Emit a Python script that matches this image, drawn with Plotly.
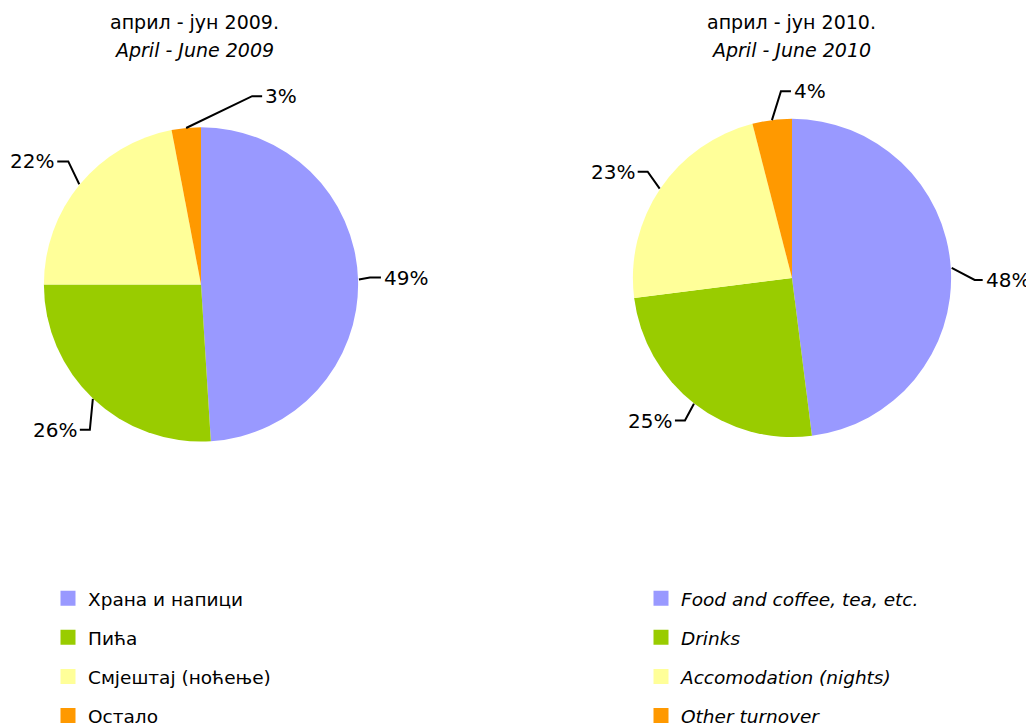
import math
import plotly.graph_objects as go

# ---------------- data ----------------
categories_sr = ["Храна и напици", "Пића", "Смјештај (ноћење)", "Остало"]
categories_en = ["Food and coffee, tea, etc.", "Drinks", "Accomodation (nights)", "Other turnover"]
values_2009 = [49, 26, 22, 3]
values_2010 = [48, 25, 23, 4]
titles_sr = ["април - јун 2009.", "април - јун 2010."]
titles_en = ["April - June 2009", "April - June 2010"]

# ---------------- style / layout ----------------
colors = ["#9999FF", "#99CC00", "#FFFF99", "#FF9900"]
W, H = 1034, 727
FONT = "DejaVu Sans"
# page offset and effective drawing height (calibrated against the rendered page)
OFF_X, OFF_Y = 8, 8
EFF_W, EFF_H = 1034, 712

# pie geometry in screen pixels (centre x, centre y, radius)
pie_geom = [(201, 286, 158), (792, 279.5, 160)]
title_x = [194, 791]
# leader-line elbow offsets (px, relative to slice edge) and horizontal tail length
leader = [
    [(11, -2, 11), (-3, 31, -10), (-11, -23, -11), (66, -32, 10)],
    [(23, 12, 8), (-9, 17, -10), (-12, -17, -10), (9, -29, 10)],
]


def px(x):
    return (x - OFF_X) / EFF_W


def py(y):
    return 1 - (y - OFF_Y) / EFF_H


fig = go.Figure()
shapes = []
annotations = []

for k, vals in enumerate([values_2009, values_2010]):
    cx, cy, r = pie_geom[k]
    fig.add_trace(go.Pie(
        values=vals,
        labels=categories_sr,
        marker=dict(colors=colors, line=dict(width=0)),
        sort=False,
        direction="clockwise",
        rotation=0,
        textinfo="none",
        hoverinfo="label+percent",
        showlegend=False,
        domain=dict(x=[px(cx - r), px(cx + r)], y=[py(cy + r), py(cy - r)]),
    ))
    total = sum(vals)
    cum = 0
    for i, v in enumerate(vals):
        frac = (cum + v / 2) / total
        cum += v
        th = 2 * math.pi * frac
        ex, ey = cx + r * math.sin(th), cy - r * math.cos(th)
        dx, dy, tail = leader[k][i]
        bx, by = ex + dx, ey + dy
        tx = bx + tail
        shapes.append(dict(
            type="path", xref="paper", yref="paper",
            path=f"M{px(ex)},{py(ey)} L{px(bx)},{py(by)} L{px(tx)},{py(by)}",
            line=dict(color="black", width=2),
        ))
        annotations.append(dict(
            x=px(tx + (1 if tail > 0 else -1)), y=py(by), xref="paper", yref="paper",
            text=f"{v / total * 100:.0f}%", showarrow=False,
            xanchor="left" if tail > 0 else "right", yanchor="middle",
            font=dict(family=FONT, size=20, color="black"),
        ))
    annotations.append(dict(
        x=px(title_x[k]), y=py(22), xref="paper", yref="paper", text=titles_sr[k],
        showarrow=False, xanchor="center", yanchor="middle",
        font=dict(family=FONT, size=19, color="black"),
    ))
    annotations.append(dict(
        x=px(title_x[k]), y=py(50), xref="paper", yref="paper", text=f"<i>{titles_en[k]}</i>",
        showarrow=False, xanchor="center", yanchor="middle",
        font=dict(family=FONT, size=19, color="black"),
    ))

# legend entries (one column per language)
for i in range(len(categories_sr)):
    fig.add_trace(go.Scatter(
        x=[None], y=[None], mode="markers", name=categories_sr[i],
        marker=dict(symbol="square", size=15, color=colors[i]),
        legendgroup=f"sr{i}", legend="legend", showlegend=True,
    ))
for i in range(len(categories_en)):
    fig.add_trace(go.Scatter(
        x=[None], y=[None], mode="markers", name=f"<i>{categories_en[i]}</i>",
        marker=dict(symbol="square", size=15, color=colors[i]),
        legendgroup=f"en{i}", legend="legend2", showlegend=True,
    ))

legend_common = dict(
    yanchor="top", xanchor="left", traceorder="grouped", tracegroupgap=12,
    bgcolor="rgba(0,0,0,0)", borderwidth=0, itemclick=False,
    font=dict(family=FONT, size=18.5, color="black"),
)

fig.update_layout(
    width=W, height=H, autosize=False,
    margin=dict(l=0, r=0, t=0, b=0),
    paper_bgcolor="white", plot_bgcolor="white",
    font=dict(family=FONT, color="black"),
    xaxis=dict(visible=False), yaxis=dict(visible=False),
    shapes=shapes, annotations=annotations,
    legend=dict(x=px(48), y=py(583), **legend_common),
    legend2=dict(x=px(641), y=py(583), **legend_common),
)

fig.write_html("out.html")
